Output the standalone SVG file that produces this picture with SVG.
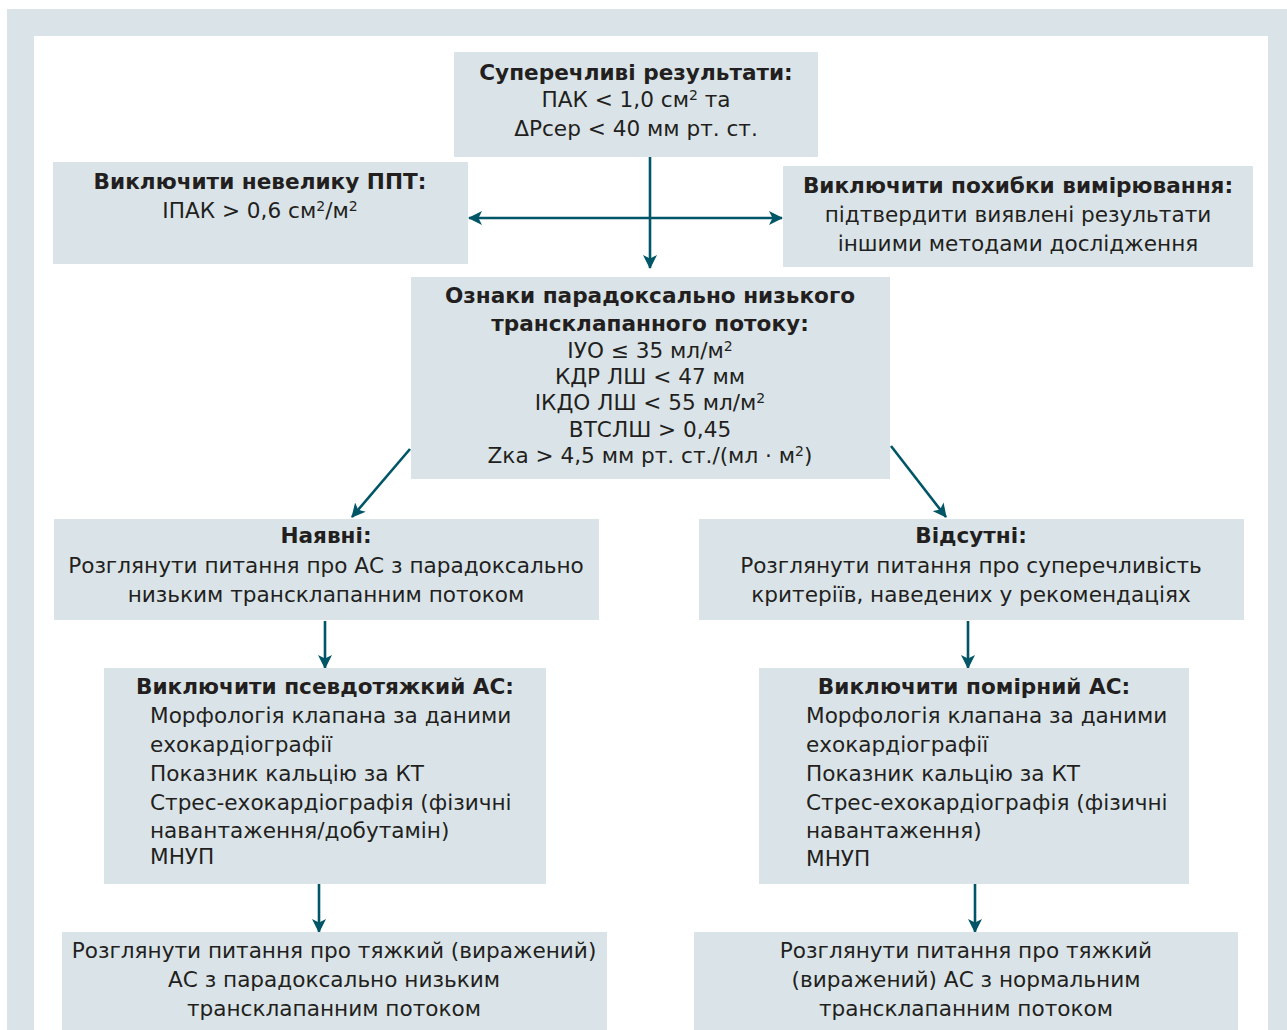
<svg xmlns="http://www.w3.org/2000/svg" width="1287" height="1030" viewBox="0 0 1287 1030">
<style>
.box{fill:#dae4e8}
text{font-family:"DejaVu Sans","Open Sans","Liberation Sans",sans-serif;font-size:21.6px;fill:#231f20}
.b{font-weight:bold}
.c{text-anchor:middle}
.s{font-size:14px}
.ln{stroke:#005566;stroke-width:2.6;fill:none}
</style>
<defs>
<marker id="ah" viewBox="0 0 14 14" refX="13" refY="7" markerWidth="14" markerHeight="14" markerUnits="userSpaceOnUse" orient="auto-start-reverse">
<path d="M0,0 L14,7 L0,14 L3.5,7 Z" fill="#005566"/>
</marker>
</defs>
<rect x="7" y="9" width="1280" height="1030" fill="#dae4e8"/>
<rect x="34" y="36" width="1234" height="1000" fill="#ffffff"/>

<g id="connectors">
<line class="ln" x1="650" y1="157" x2="650" y2="268" marker-end="url(#ah)"/>
<line class="ln" x1="469" y1="218" x2="782" y2="218" marker-start="url(#ah)" marker-end="url(#ah)"/>
<line class="ln" x1="410" y1="449" x2="352" y2="517" marker-end="url(#ah)"/>
<line class="ln" x1="891" y1="446" x2="946" y2="517" marker-end="url(#ah)"/>
<line class="ln" x1="325" y1="621" x2="325" y2="668" marker-end="url(#ah)"/>
<line class="ln" x1="968" y1="621" x2="968" y2="668" marker-end="url(#ah)"/>
<line class="ln" x1="319" y1="884" x2="319" y2="932" marker-end="url(#ah)"/>
<line class="ln" x1="975" y1="884" x2="975" y2="932" marker-end="url(#ah)"/>
</g>

<g id="n-top">
<rect class="box" x="454" y="52" width="364" height="105"/>
<text class="c b" x="636" y="80">Суперечливі результати:</text>
<text class="c" x="636" y="107">ПАК &lt; 1,0 см<tspan class="s" dy="-7">2</tspan><tspan dy="7"> та</tspan></text>
<text class="c" x="636" y="136">ΔPсер &lt; 40 мм рт. ст.</text>
</g>

<g id="n-left">
<rect class="box" x="53" y="162" width="415" height="102"/>
<text class="c b" x="260" y="189">Виключити невелику ППТ:</text>
<text class="c" x="260" y="218">ІПАК &gt; 0,6 см<tspan class="s" dy="-7">2</tspan><tspan dy="7">/м</tspan><tspan class="s" dy="-7">2</tspan></text>
</g>

<g id="n-right">
<rect class="box" x="783" y="166" width="470" height="101"/>
<text class="c b" x="1018" y="193">Виключити похибки вимірювання:</text>
<text class="c" x="1018" y="222">підтвердити виявлені результати</text>
<text class="c" x="1018" y="251">іншими методами дослідження</text>
</g>

<g id="n-mid">
<rect class="box" x="411" y="277" width="479" height="202"/>
<text class="c b" x="650" y="303">Ознаки парадоксально низького</text>
<text class="c b" x="650" y="331">трансклапанного потоку:</text>
<text class="c" x="650" y="358">ІУО ≤ 35 мл/м<tspan class="s" dy="-7">2</tspan></text>
<text class="c" x="650" y="384">КДР ЛШ &lt; 47 мм</text>
<text class="c" x="650" y="410">ІКДО ЛШ &lt; 55 мл/м<tspan class="s" dy="-7">2</tspan></text>
<text class="c" x="650" y="437">ВТСЛШ &gt; 0,45</text>
<text class="c" x="650" y="463">Zка &gt; 4,5 мм рт. ст./(мл · м<tspan class="s" dy="-7">2</tspan><tspan dy="7">)</tspan></text>
</g>

<g id="n-yes">
<rect class="box" x="54" y="519" width="545" height="101"/>
<text class="c b" x="326" y="543">Наявні:</text>
<text class="c" x="326" y="573">Розглянути питання про АС з парадоксально</text>
<text class="c" x="326" y="602">низьким трансклапанним потоком</text>
</g>

<g id="n-no">
<rect class="box" x="699" y="519" width="545" height="101"/>
<text class="c b" x="971" y="543">Відсутні:</text>
<text class="c" x="971" y="573">Розглянути питання про суперечливість</text>
<text class="c" x="971" y="602">критеріїв, наведених у рекомендаціях</text>
</g>

<g id="n-pseudo">
<rect class="box" x="104" y="668" width="442" height="216"/>
<text class="c b" x="325" y="694">Виключити псевдотяжкий АС:</text>
<text x="150" y="723">Морфологія клапана за даними</text>
<text x="150" y="752">ехокардіографії</text>
<text x="150" y="781">Показник кальцію за КТ</text>
<text x="150" y="810">Стрес-ехокардіографія (фізичні</text>
<text x="150" y="838">навантаження/добутамін)</text>
<text x="150" y="864">МНУП</text>
</g>

<g id="n-moderate">
<rect class="box" x="759" y="668" width="430" height="216"/>
<text class="c b" x="974" y="694">Виключити помірний АС:</text>
<text x="806" y="723">Морфологія клапана за даними</text>
<text x="806" y="752">ехокардіографії</text>
<text x="806" y="781">Показник кальцію за КТ</text>
<text x="806" y="810">Стрес-ехокардіографія (фізичні</text>
<text x="806" y="838">навантаження)</text>
<text x="806" y="866">МНУП</text>
</g>

<g id="n-severe-low">
<rect class="box" x="62" y="932" width="545" height="110"/>
<text class="c" x="334" y="958">Розглянути питання про тяжкий (виражений)</text>
<text class="c" x="334" y="987">АС з парадоксально низьким</text>
<text class="c" x="334" y="1016">трансклапанним потоком</text>
</g>

<g id="n-severe-normal">
<rect class="box" x="694" y="932" width="544" height="110"/>
<text class="c" x="966" y="958">Розглянути питання про тяжкий</text>
<text class="c" x="966" y="987">(виражений) АС з нормальним</text>
<text class="c" x="966" y="1016">трансклапанним потоком</text>
</g>
</svg>
